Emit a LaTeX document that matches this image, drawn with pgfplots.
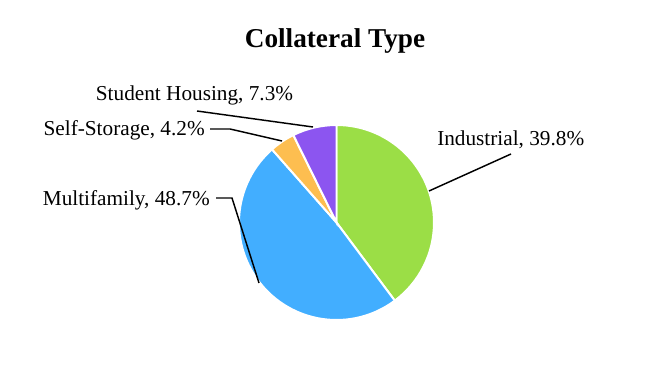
\documentclass[border=0pt]{standalone}
\usepackage{pgfplots}
\pgfplotsset{compat=1.18}
\usepackage{fontspec}
\setmainfont{Liberation Serif}
\definecolor{cInd}{RGB}{155,222,70}
\definecolor{cMul}{RGB}{66,174,255}
\definecolor{cSS}{RGB}{253,190,80}
\definecolor{cSH}{RGB}{140,85,240}
% shares in percent
\def\vInd{39.8}\def\vMul{48.7}\def\vSS{4.2}\def\vSH{7.3}
\pgfmathsetmacro\aA{90}
\pgfmathsetmacro\aB{\aA-3.6*\vInd}
\pgfmathsetmacro\aC{\aB-3.6*\vMul}
\pgfmathsetmacro\aD{\aC-3.6*\vSS}
\pgfmathsetmacro\aE{\aD-3.6*\vSH}
\def\R{1.0156in}
\begin{document}
\begin{tikzpicture}
\begin{axis}[
  width=7in, height=4in, scale only axis,
  xmin=0, xmax=672, ymin=0, ymax=384,
  hide axis, clip=false,
]
\addplot[draw=none] coordinates {(0,0) (672,384)};
\fill[cInd, draw=white, line width=1.5pt] (axis cs:336.5,161.5) -- ++(\aA:\R) arc[start angle=\aA, end angle=\aB, radius=\R] -- cycle;
\fill[cMul, draw=white, line width=1.5pt] (axis cs:336.5,161.5) -- ++(\aB:\R) arc[start angle=\aB, end angle=\aC, radius=\R] -- cycle;
\fill[cSS, draw=white, line width=1.5pt] (axis cs:336.5,161.5) -- ++(\aC:\R) arc[start angle=\aC, end angle=\aD, radius=\R] -- cycle;
\fill[cSH, draw=white, line width=1.5pt] (axis cs:336.5,161.5) -- ++(\aD:\R) arc[start angle=\aD, end angle=\aE, radius=\R] -- cycle;
% leader lines
\draw[black, line width=1.1pt] (axis cs:429,193) -- (axis cs:511,230);
\draw[black, line width=1.1pt] (axis cs:216,186) -- (axis cs:232,186) -- (axis cs:259,101);
\draw[black, line width=1.1pt] (axis cs:210,255) -- (axis cs:230,255) -- (axis cs:282,243);
\draw[black, line width=1.1pt] (axis cs:197,273) -- (axis cs:313,257);
% labels
\node[font=\fontsize{16}{18}\selectfont, anchor=west, inner sep=0pt] at (axis cs:437,244) {Industrial, 39.8\%};
\node[font=\fontsize{16}{18}\selectfont, anchor=east, inner sep=0pt] at (axis cs:210,184) {Multifamily, 48.7\%};
\node[font=\fontsize{16}{18}\selectfont, anchor=east, inner sep=0pt] at (axis cs:205,254) {Self-Storage, 4.2\%};
\node[font=\fontsize{16}{18}\selectfont, inner sep=0pt] at (axis cs:194.5,289) {Student Housing, 7.3\%};
\node[font=\fontsize{20.5}{24}\selectfont\bfseries, inner sep=0pt] at (axis cs:335,343) {Collateral Type};
\end{axis}
\end{tikzpicture}
\end{document}
